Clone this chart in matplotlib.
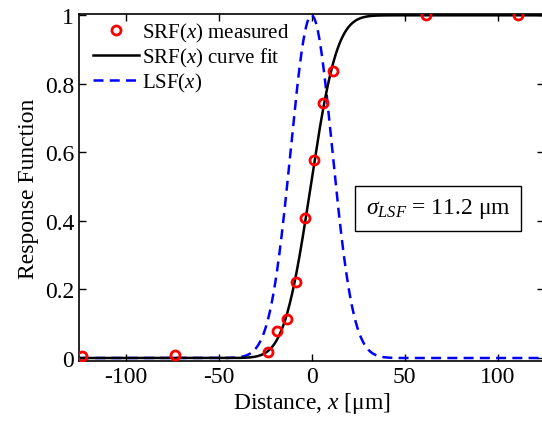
import numpy as np
import matplotlib
matplotlib.use("Agg")
import matplotlib.pyplot as plt
from math import erf

plt.rcParams['font.family'] = ['Liberation Serif', 'DejaVu Serif']
plt.rcParams['mathtext.fontset'] = 'custom'
plt.rcParams['mathtext.rm'] = 'Liberation Serif'
plt.rcParams['mathtext.it'] = 'Liberation Serif:italic'
plt.rcParams['axes.unicode_minus'] = False

# measured SRF points
x_meas = [-123.6, -73.6, -23.5, -18.4, -13.3, -8.2, -3.4, 1.6, 6.3, 11.3, 61.8, 111.0]
y_meas = [0.005, 0.008, 0.017, 0.08, 0.115, 0.222, 0.41, 0.577, 0.745, 0.838, 1.0, 1.0]

# fit parameters
sigma_lsf = 11.2
mu_srf = -0.5
mu_lsf = 0.0

x = np.linspace(-125, 125, 1001)
srf_fit = np.array([0.5 * (1 + erf((v - mu_srf) / (sigma_lsf * np.sqrt(2)))) for v in x])
lsf = np.exp(-0.5 * ((x - mu_lsf) / sigma_lsf) ** 2)

fig = plt.figure(figsize=(5.42, 4.27), dpi=100)
ax = fig.add_axes([0.1458, 0.152, 0.8579, 0.813])

ax.plot(x_meas, y_meas, 'o', mfc='none', mec='red', mew=2, ms=6.5,
        label=r'SRF$\mathit{(x)}$ measured', zorder=4)
ax.plot(x, srf_fit, '-', color='black', lw=1.8, label=r'SRF$\mathit{(x)}$ curve fit', zorder=3)
ax.plot(x, lsf, '--', color='blue', lw=1.8, dashes=(4, 2.5), label=r'LSF$\mathit{(x)}$', zorder=2)

ax.set_xlim(-125, 125)
ax.set_ylim(-0.009, 1.004)
ax.set_xticks([-100, -50, 0, 50, 100])
ax.set_yticks([0, 0.2, 0.4, 0.6, 0.8, 1])
ax.set_yticklabels(['0', '0.2', '0.4', '0.6', '0.8', '1'])
ax.tick_params(direction='in', top=True, right=True, labelsize=17, length=5, width=1)
for s in ax.spines.values():
    s.set_linewidth(1.2)

ax.set_xlabel(r'Distance, $\mathit{x}$ [μm]', fontsize=17, labelpad=2)
ax.set_ylabel('Response Function', fontsize=17, labelpad=4)

ax.legend(loc='upper left', frameon=False, fontsize=15, handlelength=2.2,
          handletextpad=0.15, borderaxespad=0.0, labelspacing=0.1,
          bbox_to_anchor=(0.012, 1.004))

ax.text(0.772, 0.44, r'$\sigma_{LSF}$ = 11.2 μm', transform=ax.transAxes,
        fontsize=17, ha='center', va='center',
        bbox=dict(boxstyle='square,pad=0.45', fc='white', ec='black', lw=1))

fig.savefig('out.png', dpi=100)
